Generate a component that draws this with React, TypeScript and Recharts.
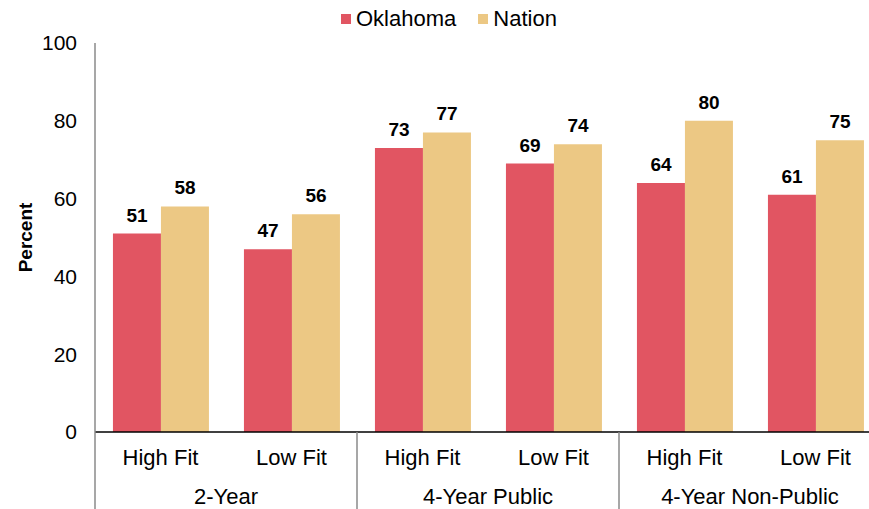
import { Bar, BarChart, LabelList, XAxis, YAxis } from 'recharts';

const subCategories = ['High Fit', 'Low Fit', 'High Fit', 'Low Fit', 'High Fit', 'Low Fit'];
const groups = ['2-Year', '2-Year', '4-Year Public', '4-Year Public', '4-Year Non-Public', '4-Year Non-Public'];
const oklahoma = [51, 47, 73, 69, 64, 61];
const nation = [58, 56, 77, 74, 80, 75];
const yTicks = [0, 20, 40, 60, 80, 100];

const series = [
  { key: 'oklahoma', name: 'Oklahoma', color: '#E15562' },
  { key: 'nation', name: 'Nation', color: '#ECC884' },
];

const data = subCategories.map((sub, i) => ({
  sub,
  group: groups[i],
  oklahoma: oklahoma[i],
  nation: nation[i],
}));

const FONT = '"Liberation Sans", Arial, Helvetica, sans-serif';

function CategoryTick(props: any) {
  const { x, y, payload } = props;
  const index: number = payload.index;
  const half: number = payload.offset || 65.5;
  const showGroup = index % 2 === 0;
  return (
    <g>
      <text x={x} y={y + 33} textAnchor="middle" fontSize={22} fill="#000" fontFamily={FONT}>
        {payload.value}
      </text>
      {showGroup && (
        <>
          <line x1={x - half} y1={y} x2={x - half} y2={y + 80} stroke="#8a8a8a" strokeWidth={1.5} />
          <text x={x + half} y={y + 72} textAnchor="middle" fontSize={22} fill="#000" fontFamily={FONT}>
            {groups[index]}
          </text>
        </>
      )}
      {index === subCategories.length - 1 && (
        <line x1={x + half} y1={y} x2={x + half} y2={y + 80} stroke="#8a8a8a" strokeWidth={1.5} />
      )}
    </g>
  );
}

export default function App() {
  return (
    <div style={{ position: 'fixed', top: 0, left: 0, width: 869, height: 509, overflow: 'hidden', fontFamily: FONT, background: '#fff' }}>
      <div style={{ position: 'absolute', top: 6, left: 341, display: 'flex', gap: 22 }}>
        {series.map((s) => (
          <div key={s.key} style={{ display: 'flex', alignItems: 'center', gap: 5, fontSize: 22, lineHeight: '26px', color: '#000' }}>
            <span style={{ width: 10, height: 10, backgroundColor: s.color, display: 'inline-block' }} />
            <span>{s.name}</span>
          </div>
        ))}
      </div>
      <BarChart
        width={881}
        height={509}
        data={data}
        margin={{ top: 43, right: 0, left: 0, bottom: 0 }}
        barCategoryGap="13.7%"
        barGap={0}
      >
        <XAxis
          dataKey="sub"
          interval={0}
          height={77}
          tickLine={false}
          tickSize={0}
          tickMargin={0}
          axisLine={{ stroke: '#000', strokeWidth: 1.5 }}
          tick={<CategoryTick />}
        />
        <YAxis
          width={95}
          domain={[0, 100]}
          ticks={yTicks}
          tickLine={false}
          axisLine={{ stroke: '#8a8a8a', strokeWidth: 1.5 }}
          tick={{ fontSize: 21, fill: '#000', fontFamily: FONT }}
          tickMargin={12}
          label={{
            value: 'Percent',
            angle: -90,
            position: 'insideLeft',
            offset: 25,
            style: { fontSize: 19, fontWeight: 'bold', fill: '#000', fontFamily: FONT, textAnchor: 'middle' },
          }}
        />
        {series.map((s) => (
          <Bar key={s.key} dataKey={s.key} name={s.name} fill={s.color} isAnimationActive={false}>
            <LabelList dataKey={s.key} position="top" offset={12} style={{ fontSize: 19, fontWeight: 'bold', fill: '#000', fontFamily: FONT }} />
          </Bar>
        ))}
      </BarChart>
    </div>
  );
}
